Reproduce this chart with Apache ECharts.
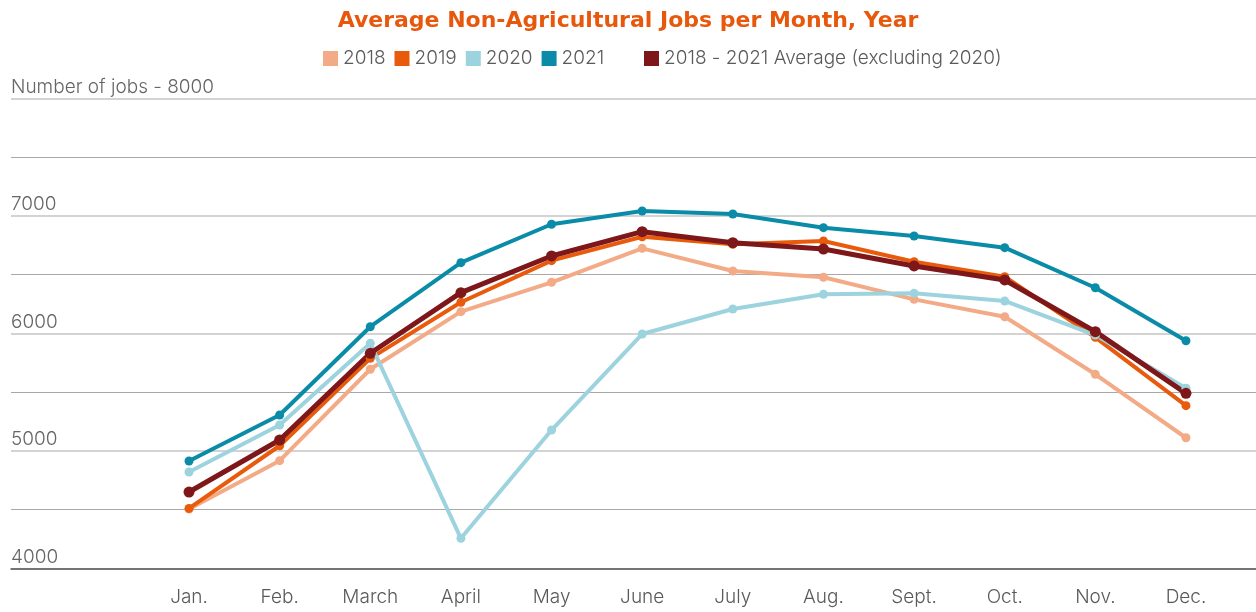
<!DOCTYPE html>
<html>
<head>
<meta charset="utf-8">
<script src="https://cdn.jsdelivr.net/npm/echarts@6/dist/echarts.min.js"></script>
<style>
  html, body { margin: 0; padding: 0; background: #fff; }
  #chart { width: 1256px; height: 612px; }
</style>
</head>
<body>
<div id="chart"></div>
<script>
// months on the x axis
const months = ['Jan.', 'Feb.', 'March', 'April', 'May', 'June', 'July', 'Aug.', 'Sept.', 'Oct.', 'Nov.', 'Dec.'];

// jobs per month
const jobs2018 = [4505, 4916, 5694, 6184, 6434, 6723, 6530, 6477, 6289, 6141, 5651, 5111];
const jobs2019 = [4510, 5043, 5787, 6264, 6618, 6822, 6757, 6786, 6609, 6482, 5966, 5384];
const jobs2020 = [4820, 5220, 5915, 4255, 5177, 5994, 6207, 6332, 6340, 6275, 5985, 5532];
const jobs2021 = [4913, 5305, 6056, 6601, 6928, 7041, 7015, 6899, 6828, 6729, 6388, 5937];
const jobsAvg  = [4649, 5092, 5830, 6346, 6658, 6865, 6771, 6717, 6573, 6454, 6014, 5489];

const yMin = 4000;
const yMax = 8000;

const font = 'Inter';
const textGrey = '#5a5a5a';

function lineSeries(name, data, color, width, size) {
  return {
    name: name,
    type: 'line',
    xAxisIndex: 1,
    yAxisIndex: 1,
    data: data,
    symbol: 'circle',
    symbolSize: size,
    showSymbol: true,
    itemStyle: { color: color },
    lineStyle: { color: color, width: width },
    emphasis: { disabled: true }
  };
}

const chart = echarts.init(document.getElementById('chart'));

chart.setOption({
  animation: false,
  title: {
    text: 'Average Non-Agricultural Jobs per Month, Year',
    left: 'center',
    top: 5,
    textStyle: { fontFamily: 'DejaVu Sans', fontSize: 22, fontWeight: 'bold', color: '#e8580c' }
  },
  legend: [
    {
      data: ['2018', '2019', '2020', '2021'],
      left: 318,
      top: 44,
      icon: 'rect',
      itemWidth: 15,
      itemHeight: 15,
      itemGap: 9,
      textStyle: { fontFamily: font, fontSize: 19, fontWeight: 300, color: textGrey }
    },
    {
      data: ['2018 - 2021 Average (excluding 2020)'],
      left: 639,
      top: 44,
      icon: 'rect',
      itemWidth: 15,
      itemHeight: 15,
      textStyle: { fontFamily: font, fontSize: 19, fontWeight: 300, color: textGrey }
    }
  ],
  grid: [
    // full width grid, only for the gridlines
    { left: 11, right: 0, top: 98.3, bottom: 43.7 },
    // grid for the lines
    { left: 143.7, right: 24.7, top: 98.3, bottom: 43.7 }
  ],
  xAxis: [
    {
      type: 'category',
      gridIndex: 0,
      data: months,
      axisLine: { show: true, lineStyle: { color: '#555', width: 1.5 } },
      axisTick: { show: false },
      axisLabel: { show: false }
    },
    {
      type: 'category',
      gridIndex: 1,
      data: months,
      axisLine: { show: false },
      axisTick: { show: false },
      axisLabel: { margin: 19, fontFamily: font, fontSize: 19, fontWeight: 300, color: textGrey }
    }
  ],
  yAxis: [
    {
      type: 'value',
      gridIndex: 0,
      min: yMin,
      max: yMax,
      interval: 1000,
      axisLine: { show: false },
      axisTick: { show: false },
      splitLine: { show: true, lineStyle: { color: '#c4c4c4', width: 1.5 } },
      minorTick: { show: false, splitNumber: 2 },
      minorSplitLine: { show: true, lineStyle: { color: '#a8a8a8', width: 1.2 } },
      axisLabel: {
        inside: true,
        margin: 0,
        verticalAlign: 'bottom',
        padding: [0, 0, 2, 0],
        fontFamily: font,
        fontSize: 19,
        fontWeight: 300,
        color: '#666',
        formatter: function (v) {
          return v === yMax ? 'Number of jobs - ' + v : String(v);
        }
      }
    },
    {
      type: 'value',
      gridIndex: 1,
      min: yMin,
      max: yMax,
      interval: 1000,
      show: false,
      splitLine: { show: false }
    }
  ],
  series: [
    lineSeries('2018', jobs2018, '#f2ab86', 4, 9),
    lineSeries('2019', jobs2019, '#e85b0c', 4, 9),
    lineSeries('2020', jobs2020, '#9dd3de', 4, 9),
    lineSeries('2021', jobs2021, '#0a8ca8', 4, 9),
    lineSeries('2018 - 2021 Average (excluding 2020)', jobsAvg, '#7d1719', 5, 11)
  ]
});
</script>
</body>
</html>
